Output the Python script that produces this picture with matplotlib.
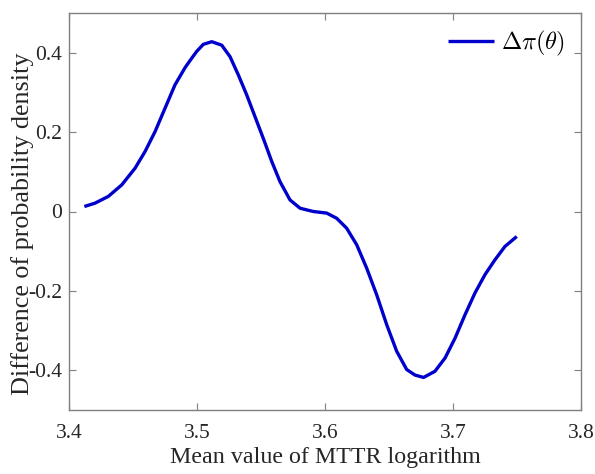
import matplotlib
matplotlib.use("Agg")
import matplotlib.pyplot as plt

# Values
x_vals = [3.4120, 3.4203, 3.4307, 3.4412, 3.4516, 3.4594, 3.4672, 3.4750, 3.4828,
          3.4906, 3.4945, 3.4997, 3.5049, 3.5115, 3.5193, 3.5258, 3.5323, 3.5388,
          3.5453, 3.5518, 3.5584, 3.5648, 3.5727, 3.5805, 3.5870, 3.5909, 3.6013,
          3.6091, 3.6169, 3.6248, 3.6326, 3.6404, 3.6482, 3.6560, 3.6638, 3.6703,
          3.6770, 3.6859, 3.6938, 3.7016, 3.7094, 3.7172, 3.7250, 3.7328, 3.7406,
          3.7498]
y_vals = [0.0126, 0.021, 0.038, 0.067, 0.109, 0.151, 0.201, 0.260, 0.319,
          0.362, 0.380, 0.403, 0.421, 0.4277, 0.419, 0.390, 0.344, 0.294,
          0.239, 0.184, 0.126, 0.0755, 0.029, 0.0083, 0.003, 0.000, -0.004,
          -0.017, -0.042, -0.084, -0.143, -0.210, -0.285, -0.352, -0.398, -0.412,
          -0.418, -0.4025, -0.369, -0.319, -0.260, -0.205, -0.159, -0.1216, -0.088,
          -0.063]
x_ticks = [3.4, 3.5, 3.6, 3.7, 3.8]
y_ticks = [-0.4, -0.2, 0.0, 0.2, 0.4]
y_tick_labels = ["-0.4", "-0.2", "0", "0.2", "0.4"]
series_label = r"$\Delta\pi(\theta)$"

plt.rcParams['font.family'] = ['Liberation Serif', 'DejaVu Serif']
plt.rcParams['mathtext.fontset'] = 'cm'

fig = plt.figure(figsize=(5.95, 4.74), dpi=100)
ax = fig.add_axes([69/595, 1 - 410/474, (581-69)/595, (410-13)/474])

ax.plot(x_vals, y_vals, color='#0000cc', linewidth=2.4, label=series_label,
        solid_capstyle='butt', solid_joinstyle='round')

ax.set_xlim(3.4, 3.8)
ax.set_ylim(-0.5, 0.5)
ax.set_xticks(x_ticks)
ax.set_xticklabels([f"{t:.1f}" for t in x_ticks])
ax.set_yticks(y_ticks)
ax.set_yticklabels(y_tick_labels)

gray = '#7f7f7f'
txt = '#262626'
for s in ax.spines.values():
    s.set_color(gray)
    s.set_linewidth(1.0)
ax.tick_params(direction='in', length=5, width=0.8, color=gray,
               top=True, right=True, labelsize=15.5, labelcolor=txt)
ax.tick_params(axis='x', pad=10)
ax.tick_params(axis='y', pad=5)

ax.set_xlabel("Mean value of MTTR logarithm", fontsize=17.3, color=txt, labelpad=3)
ax.set_ylabel("Difference of probability density", fontsize=18.8, color=txt)
ax.yaxis.set_label_coords(-0.068, 0.468)

leg = ax.legend(loc='upper right', frameon=False, fontsize=17.5, handlelength=1.9,
                handletextpad=0.3, borderaxespad=0.25)

fig.savefig("out.png", dpi=100)
